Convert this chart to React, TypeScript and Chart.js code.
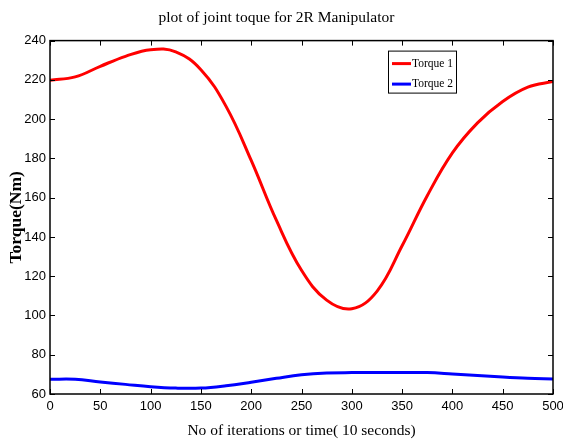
import React, { useEffect, useRef } from "react";
import { Chart, registerables } from "chart.js";

Chart.register(...registerables);

const iterations = [0, 25, 50, 75, 100, 125, 150, 175, 200, 225, 250, 275, 300, 325, 350, 375, 400, 425, 450, 475, 500];
const torque1 = [219.8, 221.5, 226.9, 232, 235.4, 234.3, 225.2, 206.5, 179, 148.5, 123, 107.8, 103.4, 112.3, 135.5, 161, 182.8, 198.1, 209, 216.3, 219.2];
const torque2 = [67.5, 67.5, 66.1, 64.9, 63.7, 63.0, 63.0, 64.2, 66, 68, 69.8, 70.7, 70.9, 70.9, 70.9, 70.9, 70.2, 69.4, 68.6, 68, 67.7];
const seriesLabels = ["Torque 1", "Torque 2"];
const seriesColors = ["#ff0000", "#0000ff"];
const chartTitle = "plot of joint toque for 2R Manipulator";
const xTitle = "No of iterations or time( 10 seconds)";
const yTitle = "Torque(Nm)";

const tickFont = { family: "'Liberation Sans Narrow', 'Liberation Sans', Arial, sans-serif", size: 13 };

const boxTicksPlugin = {
  id: "boxTicks",
  afterDraw(chart: any) {
    const { ctx, chartArea } = chart;
    const { left, right, top, bottom } = chartArea;
    const len = 5;
    ctx.save();
    ctx.strokeStyle = "#000";
    ctx.lineWidth = 1;
    ctx.beginPath();
    const xs = chart.scales.x;
    const ys = chart.scales.y;
    xs.ticks.forEach((t: any) => {
      const px = Math.round(xs.getPixelForValue(t.value)) + 0.5;
      ctx.moveTo(px, bottom);
      ctx.lineTo(px, bottom - len);
      ctx.moveTo(px, top);
      ctx.lineTo(px, top + len);
    });
    ys.ticks.forEach((t: any) => {
      const py = Math.round(ys.getPixelForValue(t.value)) + 0.5;
      ctx.moveTo(left, py);
      ctx.lineTo(left + len, py);
      ctx.moveTo(right, py);
      ctx.lineTo(right - len, py);
    });
    ctx.stroke();
    ctx.lineWidth = 1.5;
    ctx.strokeRect(left, top, right - left, bottom - top);

    // legend
    const bx = right - 165;
    const by = top + 10;
    const bw = 68;
    const bh = 42;
    ctx.fillStyle = "#fff";
    ctx.fillRect(bx, by, bw, bh);
    ctx.lineWidth = 1;
    ctx.strokeStyle = "#000";
    ctx.strokeRect(bx + 0.5, by + 0.5, bw, bh);
    ctx.font = "11.5px 'Liberation Serif', 'Times New Roman', serif";
    ctx.textBaseline = "middle";
    ctx.textAlign = "left";
    chart.data.datasets.forEach((ds: any, i: number) => {
      const ly = by + 13 + i * 20.5;
      ctx.strokeStyle = ds.borderColor;
      ctx.lineWidth = 3;
      ctx.beginPath();
      ctx.moveTo(bx + 4, ly);
      ctx.lineTo(bx + 23, ly);
      ctx.stroke();
      ctx.fillStyle = "#000";
      ctx.fillText(ds.label, bx + 24, ly);
    });
    ctx.restore();
  },
};

export default function App() {
  const ref = useRef<HTMLCanvasElement>(null);
  useEffect(() => {
    document.body.style.margin = "0";
    const canvas = ref.current!;
    const chart = new Chart(canvas, {
      type: "line",
      data: {
        datasets: [torque1, torque2].map((vals, i) => ({
          label: seriesLabels[i],
          data: iterations.map((x, j) => ({ x, y: vals[j] })),
          borderColor: seriesColors[i],
          backgroundColor: seriesColors[i],
          borderWidth: 3,
          pointRadius: 0,
          tension: 0.4,
          fill: false,
        })),
      },
      options: {
        responsive: false,
        animation: false,
        layout: { padding: { left: 0, right: 10, top: 0, bottom: 0 } },
        plugins: {
          legend: { display: false },
          tooltip: { enabled: false },
          title: {
            display: true,
            text: chartTitle,
            color: "#000",
            font: { family: "'Liberation Serif', 'Times New Roman', serif", size: 15.5, weight: "normal" },
            padding: { top: 9, bottom: 13 },
          },
        },
        scales: {
          x: {
            type: "linear",
            min: 0,
            max: 500,
            ticks: { stepSize: 50, color: "#000", font: tickFont, padding: 5, maxRotation: 0 },
            grid: { display: false, drawTicks: false },
            border: { display: false },
            title: {
              display: true,
              text: xTitle,
              color: "#000",
              font: { family: "'Liberation Serif', 'Times New Roman', serif", size: 15.5 },
              padding: { top: 0, bottom: 4 },
            },
            afterFit: (s: any) => {
              s.height = 50;
              s.paddingLeft = 0;
              s.paddingRight = 0;
            },
          },
          y: {
            type: "linear",
            min: 60,
            max: 240,
            ticks: { stepSize: 20, color: "#000", font: tickFont, padding: 4 },
            grid: { display: false, drawTicks: false },
            border: { display: false },
            title: {
              display: true,
              text: yTitle,
              color: "#000",
              font: { family: "'Liberation Serif', 'Times New Roman', serif", size: 17.5, weight: "bold" },
              padding: { top: 6, bottom: 0 },
            },
            afterFit: (s: any) => {
              s.width = 50;
              s.paddingTop = 0;
              s.paddingBottom = 0;
            },
          },
        },
      },
      plugins: [boxTicksPlugin],
    });
    return () => chart.destroy();
  }, []);
  return <canvas ref={ref} width={563} height={444} style={{ display: "block" }} />;
}
